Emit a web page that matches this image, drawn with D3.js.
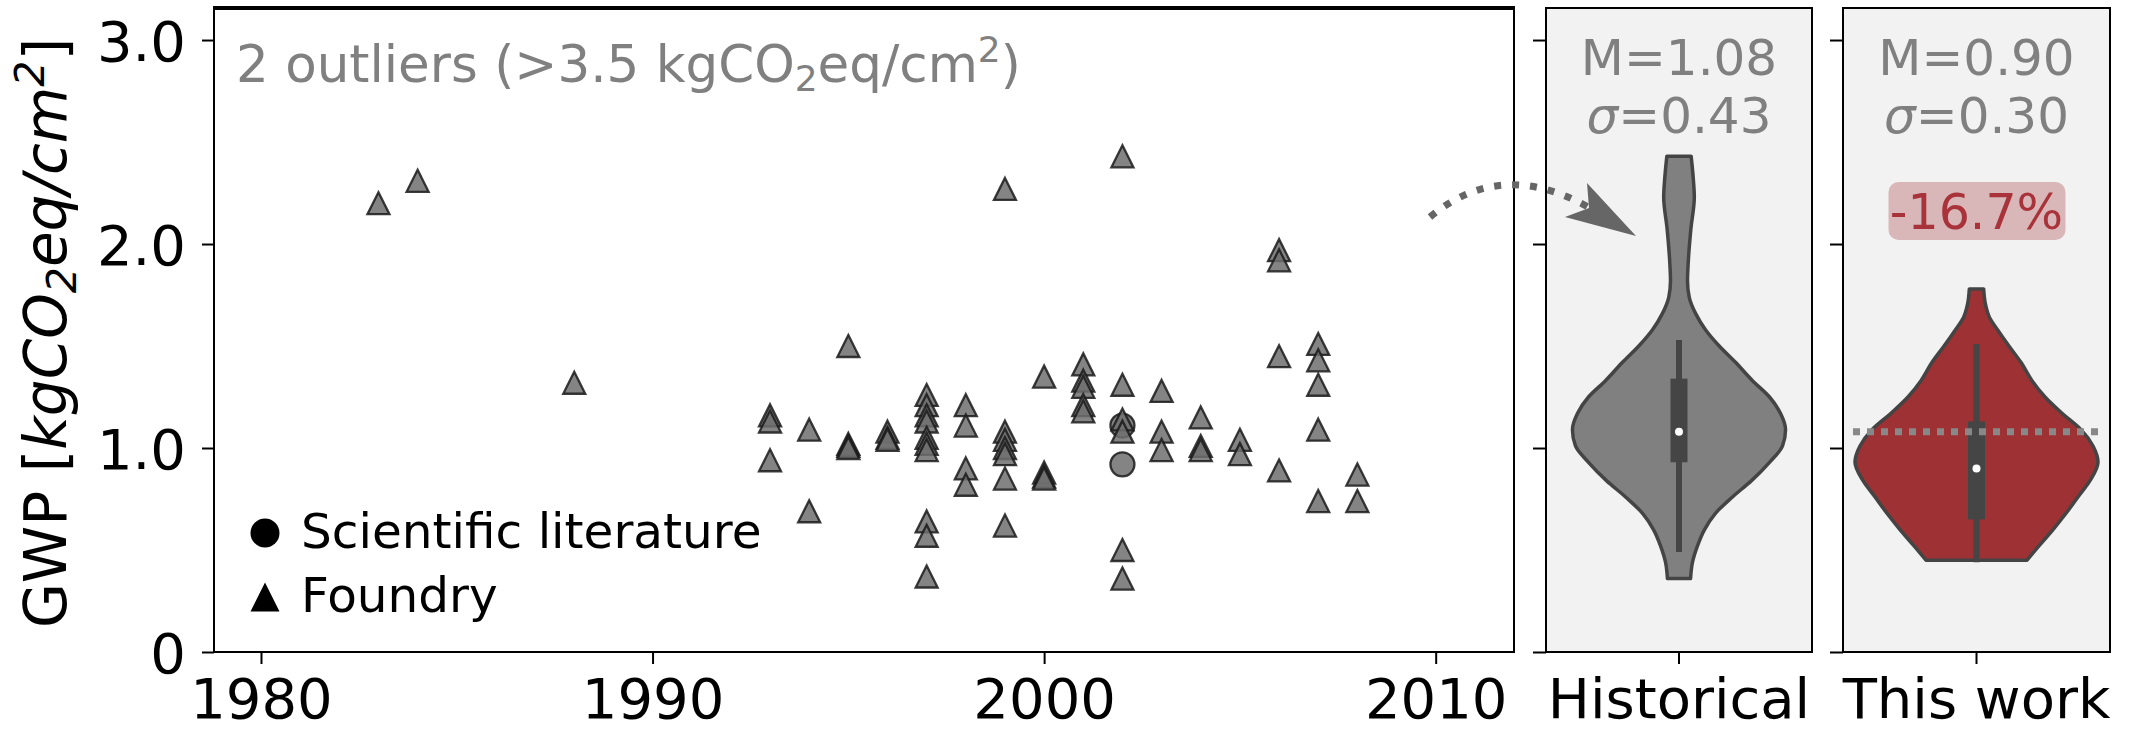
<!DOCTYPE html>
<html><head><meta charset="utf-8">
<script src="https://cdn.jsdelivr.net/npm/d3@7"></script>
<style>
html,body{margin:0;padding:0;background:#fff;}
svg{display:block;font-family:"DejaVu Sans",sans-serif;}
</style></head><body>
<svg id="chart" width="2136" height="731"></svg>
<script>
// ---------------- data ----------------
const foundryYear = [1983,1984,1988,
  1993,1993,1993, 1994,1994, 1995,1995,1995,1995, 1996,1996,1996,
  1997,1997,1997,1997,1997,1997,1997,1997,1997,1997,
  1998,1998,1998,1998, 1999,1999,1999,1999,1999,1999,1999,
  2000,2000,2000,2000, 2001,2001,2001,2001,2001,
  2002,2002,2002,2002,2002,2002, 2003,2003,2003, 2004,2004,2004,
  2005,2005, 2006,2006,2006,2006, 2007,2007,2007,2007,2007, 2008,2008];
const foundryGWP = [2.20,2.31,1.32,
  1.16,1.13,0.94, 1.09,0.69, 1.50,1.02,1.01,1.00, 1.08,1.05,1.04,
  1.26,1.21,1.16,1.13,1.05,1.02,0.99,0.64,0.57,0.37,
  1.21,1.11,0.90,0.82, 2.27,1.08,1.04,1.00,0.97,0.85,0.62,
  1.35,0.88,0.86,0.85, 1.41,1.33,1.30,1.21,1.18,
  2.43,1.31,1.14,1.08,0.50,0.36, 1.28,1.08,0.99, 1.15,1.01,0.99,
  1.04,0.97, 1.97,1.92,1.45,0.89, 1.51,1.43,1.31,1.09,0.74, 0.87,0.74];
const literatureYear = [2002, 2002];
const literatureGWP = [1.11, 0.92];

const xTicks = [1980, 1990, 2000, 2010];
const yTicks = [0, 1, 2, 3];
const yTickLabels = ["0", "1.0", "2.0", "3.0"];

const groups = ["Historical", "This work"];
const medians = [1.08, 0.90];
const sigmas = [0.43, 0.30];
const q1 = [0.93, 0.65];
const q3 = [1.34, 1.13];
const whiskerLow = [0.49, 0.44];
const whiskerHigh = [1.53, 1.51];

// violin outlines (relative density at GWP levels)
const histLevels  = [2.43,2.31,2.23,2.07,1.91,1.82,1.74,1.66,1.58,1.50,1.42,1.33,1.25,1.17,1.09,1.01,0.93,0.84,0.76,0.68,0.60,0.52,0.44,0.36];
const histDensity = [0.100,0.119,0.126,0.097,0.076,0.070,0.084,0.136,0.218,0.331,0.465,0.605,0.745,0.835,0.877,0.852,0.745,0.597,0.440,0.300,0.210,0.152,0.111,0.095];
const workLevels  = [1.78,1.71,1.64,1.58,1.50,1.42,1.33,1.25,1.17,1.09,1.01,0.93,0.84,0.76,0.68,0.60,0.52,0.45];
const workDensity = [0.059,0.072,0.107,0.173,0.267,0.366,0.457,0.564,0.704,0.860,0.959,1.000,0.934,0.835,0.737,0.630,0.514,0.416];

const outlierCount = 2, outlierThreshold = 3.5;

// ---------------- layout ----------------
const svg = d3.select("#chart");
const main = {left:214, right:1514, top:8, bottom:652};
const panels = [{left:1546, right:1812}, {left:1843, right:2110}];
const x = d3.scaleLinear().domain([1978.8, 2012]).range([main.left, main.right]);
const y = d3.scaleLinear().domain([0, 3.157]).range([main.bottom, main.top]);
const wScale = d3.scaleLinear().domain([0, 1]).range([0, 121.5]);

const TICKFONT = 56;

// ---------------- main scatter panel ----------------
const gMain = svg.append("g");
gMain.append("rect").attr("x", main.left).attr("y", main.top)
  .attr("width", main.right - main.left).attr("height", main.bottom - main.top)
  .attr("fill", "#fff");

const triType = { draw(ctx, size) { const h = Math.sqrt(size) / 2;
  ctx.moveTo(0, -h); ctx.lineTo(h, h); ctx.lineTo(-h, h); ctx.closePath(); } };
const tri = d3.symbol().type(triType).size(22 * 22);
const circ = d3.symbol().type(d3.symbolCircle).size(Math.PI * 12 * 12);

const foundry = foundryYear.map((yr, i) => ({yr, v: foundryGWP[i]}));
const literature = literatureYear.map((yr, i) => ({yr, v: literatureGWP[i]}));

gMain.append("g").selectAll("path").data(literature).join("path")
  .attr("d", circ).attr("transform", d => `translate(${x(d.yr)},${y(d.v)})`)
  .attr("fill", "#6e6e6e").attr("fill-opacity", 0.85)
  .attr("stroke", "#1a1a1a").attr("stroke-opacity", 0.85).attr("stroke-width", 2.3);
gMain.append("g").selectAll("path").data(foundry).join("path")
  .attr("d", tri).attr("transform", d => `translate(${x(d.yr)},${y(d.v)})`)
  .attr("fill", "#6e6e6e").attr("fill-opacity", 0.85)
  .attr("stroke", "#1a1a1a").attr("stroke-opacity", 0.85).attr("stroke-width", 2.3);

// axes
function styleAxis(g) {
  g.select(".domain").remove();
  g.selectAll(".tick line").attr("stroke", "#000").attr("stroke-width", 2);
  g.selectAll(".tick text").attr("fill", "#000").attr("font-size", TICKFONT)
    .attr("font-family", "DejaVu Sans");
}
gMain.append("g").attr("transform", `translate(${main.left},0)`)
  .call(d3.axisLeft(y).tickValues(yTicks).tickFormat((d, i) => yTickLabels[i]).tickSize(12).tickPadding(16))
  .call(styleAxis)
  .call(g => g.selectAll(".tick text").attr("dy", "0.36em"));
gMain.append("g").attr("transform", `translate(0,${main.bottom})`)
  .call(d3.axisBottom(x).tickValues(xTicks).tickFormat(d3.format("d")).tickSize(12).tickPadding(14))
  .call(styleAxis);

// spines
gMain.append("rect").attr("x", main.left).attr("y", main.top)
  .attr("width", main.right - main.left).attr("height", main.bottom - main.top)
  .attr("fill", "none").attr("stroke", "#000").attr("stroke-width", 2);
gMain.append("line").attr("x1", main.left - 1).attr("x2", main.right + 1)
  .attr("y1", main.top).attr("y2", main.top).attr("stroke", "#000").attr("stroke-width", 4);

// y label
const yl = svg.append("text")
  .attr("transform", `translate(66,${(main.top + main.bottom) / 2 + 3}) rotate(-90)`)
  .attr("text-anchor", "middle").attr("font-size", 58).attr("fill", "#000");
yl.append("tspan").text("GWP [");
yl.append("tspan").attr("font-style", "italic").text("kgCO");
yl.append("tspan").attr("font-style", "italic").attr("font-size", 41).attr("dy", 10).text("2");
yl.append("tspan").attr("font-style", "italic").attr("dy", -10).text("eq/cm");
yl.append("tspan").attr("font-style", "italic").attr("font-size", 41).attr("dy", -22).text("2");
yl.append("tspan").attr("dy", 22).text("]");

// outliers note
const on = svg.append("text").attr("x", 236).attr("y", 82)
  .attr("font-size", 51.5).attr("fill", "#808080");
on.append("tspan").text(`${outlierCount} outliers (>${outlierThreshold} kgCO`);
on.append("tspan").attr("font-size", 36).attr("dy", 9).text("2");
on.append("tspan").attr("dy", -9).text("eq/cm");
on.append("tspan").attr("font-size", 36).attr("dy", -20).text("2");
on.append("tspan").attr("dy", 20).text(")");

// legend
const leg = svg.append("g");
leg.append("path").attr("d", d3.symbol().type(d3.symbolCircle).size(Math.PI * 14.5 * 14.5)())
  .attr("transform", "translate(265,533)").attr("fill", "#000");
leg.append("text").attr("x", 301).attr("y", 548).attr("font-size", 48.5).text("Scientific literature");
leg.append("path").attr("d", d3.symbol().type(triType).size(29 * 29)())
  .attr("transform", "translate(265,597)").attr("fill", "#000");
leg.append("text").attr("x", 301).attr("y", 612).attr("font-size", 48.5).text("Foundry");

// ---------------- violin panels ----------------
const outlines = [
  histLevels.map((v, i) => ({v, d: histDensity[i]})),
  workLevels.map((v, i) => ({v, d: workDensity[i]}))
];
const fills = ["#808080", "#9e3134"];

panels.forEach((p, i) => {
  const g = svg.append("g");
  const band = d3.scaleBand().domain([groups[i]]).range([p.left, p.right]);
  const cx = band(groups[i]) + band.bandwidth() / 2;

  g.append("rect").attr("x", p.left).attr("y", main.top)
    .attr("width", p.right - p.left).attr("height", main.bottom - main.top)
    .attr("fill", "#f2f2f2");

  const area = d3.area().curve(d3.curveMonotoneY)
    .y(d => y(d.v)).x0(d => cx - wScale(d.d)).x1(d => cx + wScale(d.d));
  g.append("path").attr("d", area(outlines[i]))
    .attr("fill", fills[i]).attr("stroke", "#444").attr("stroke-width", 3.5)
    .attr("stroke-linejoin", "round");

  // inner box
  g.append("line").attr("x1", cx).attr("x2", cx)
    .attr("y1", y(whiskerLow[i])).attr("y2", y(whiskerHigh[i]))
    .attr("stroke", "#454545").attr("stroke-width", 6);
  g.append("rect").attr("x", cx - 8.5).attr("width", 17)
    .attr("y", y(q3[i])).attr("height", y(q1[i]) - y(q3[i]))
    .attr("fill", "#454545");
  g.append("circle").attr("cx", cx).attr("cy", y(medians[i])).attr("r", 4).attr("fill", "#fff");

  if (i === 1) {
    // historical median reference line
    g.append("line").attr("x1", p.left + 10).attr("x2", p.right - 12)
      .attr("y1", y(medians[0])).attr("y2", y(medians[0]))
      .attr("stroke", "#888").attr("stroke-width", 7).attr("stroke-dasharray", "7 7");
    const change = (medians[1] - medians[0]) / medians[0] * 100;
    g.append("rect").attr("x", cx - 88).attr("y", 182).attr("width", 177).attr("height", 58)
      .attr("rx", 10).attr("fill", "#d9b7b8");
    g.append("text").attr("x", cx).attr("y", 229).attr("text-anchor", "middle")
      .attr("font-size", 49).attr("fill", "#a8333a").text(`${change.toFixed(1)}%`);
  }

  // stats text
  g.append("text").attr("x", cx).attr("y", 75).attr("text-anchor", "middle")
    .attr("font-size", 50).attr("fill", "#808080").text(`M=${medians[i].toFixed(2)}`);
  const st = g.append("text").attr("x", cx).attr("y", 133).attr("text-anchor", "middle")
    .attr("font-size", 50).attr("fill", "#808080");
  st.append("tspan").attr("font-style", "italic").text("σ");
  st.append("tspan").text(`=${sigmas[i].toFixed(2)}`);

  // axes
  g.append("g").attr("transform", `translate(${p.left},0)`)
    .call(d3.axisLeft(y).tickValues(yTicks).tickFormat("").tickSize(13))
    .call(styleAxis);
  g.append("g").attr("transform", `translate(0,${main.bottom})`)
    .call(d3.axisBottom(band).tickSize(12).tickPadding(14))
    .call(styleAxis);
  g.append("rect").attr("x", p.left).attr("y", main.top)
    .attr("width", p.right - p.left).attr("height", main.bottom - main.top)
    .attr("fill", "none").attr("stroke", "#000").attr("stroke-width", 2);
});

// ---------------- curved dotted arrow ----------------
const arrowPath = d3.path();
arrowPath.moveTo(1430, 217);
arrowPath.quadraticCurveTo(1501, 158, 1588, 207);
svg.append("path").attr("d", arrowPath.toString()).attr("fill", "none")
  .attr("stroke", "#666").attr("stroke-width", 7).attr("stroke-dasharray", "7 11");
const head = d3.path();
head.moveTo(1636, 236); head.lineTo(1587, 183); head.lineTo(1589, 208); head.lineTo(1565, 217); head.closePath();
svg.append("path").attr("d", head.toString()).attr("fill", "#666");
</script>
</body></html>
